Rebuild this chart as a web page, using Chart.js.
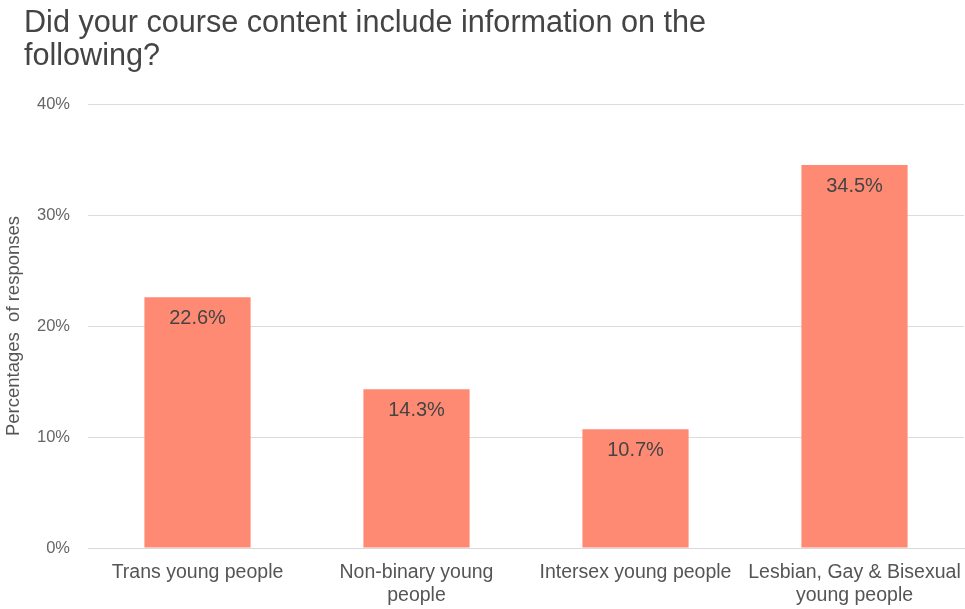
<!DOCTYPE html>
<html lang="en">
<head>
    <meta charset="UTF-8">
    <title>Course content survey</title>
    <script src="https://cdn.jsdelivr.net/npm/chart.js"></script>
    <style>
        html, body { margin: 0; padding: 0; background: #fff; }
        #wrap { width: 965px; height: 609px; }
    </style>
</head>
<body>
    <div id="wrap"><canvas id="surveyChart"></canvas></div>

    <script>
        // survey results (percent of responses)
        const categories = [
            'Trans young people',
            ['Non-binary young', 'people'],
            'Intersex young people',
            ['Lesbian, Gay & Bisexual', 'young people']
        ];
        const responses = [22.6, 14.3, 10.7, 34.5];
        const yTicks = [0, 10, 20, 30, 40];
        const titleLines = ['Did your course content include information on the', 'following?'];

        const FONT = "'Liberation Sans', Arial, sans-serif";

        // heading drawn flush with the left edge, above the plot
        const heading = {
            id: 'heading',
            afterDraw(chart) {
                const c = chart.ctx;
                c.save();
                c.font = '30.6px ' + FONT;
                c.fillStyle = '#444';
                c.textAlign = 'left';
                c.textBaseline = 'alphabetic';
                titleLines.forEach((line, i) => c.fillText(line, 24, 32 + i * 33));
                c.restore();
            }
        };

        // value labels just inside the top of each bar
        const barLabels = {
            id: 'barLabels',
            afterDatasetsDraw(chart) {
                const c = chart.ctx;
                const meta = chart.getDatasetMeta(0);
                c.save();
                c.font = '20px ' + FONT;
                c.fillStyle = '#444';
                c.textAlign = 'center';
                c.textBaseline = 'middle';
                meta.data.forEach((bar, i) => {
                    c.fillText(responses[i].toFixed(1) + '%', bar.x, bar.y + 21);
                });
                c.restore();
            }
        };

        new Chart(document.getElementById('surveyChart'), {
            type: 'bar',
            data: {
                labels: categories,
                datasets: [{
                    data: responses,
                    backgroundColor: '#ff8a73',
                    barPercentage: 0.97,
                    categoryPercentage: 0.5
                }]
            },
            options: {
                responsive: true,
                maintainAspectRatio: false,
                animation: false,
                layout: { padding: { top: 104, left: 3, right: 1, bottom: 0 } },
                plugins: {
                    legend: { display: false },
                    tooltip: { enabled: false },
                    title: { display: false }
                },
                scales: {
                    x: {
                        grid: { display: false, drawTicks: false },
                        border: { color: '#d9d9d9' },
                        ticks: {
                            color: '#555',
                            font: { family: FONT, size: 19.5, lineHeight: 1.2 },
                            padding: 13,
                            maxRotation: 0,
                            autoSkip: false
                        },
                        // wide end labels may overhang the plot edges
                        afterFit(axis) {
                            axis.paddingLeft = 0;
                            axis.paddingRight = 0;
                            axis.height = 61;
                        }
                    },
                    y: {
                        min: 0,
                        max: 40,
                        afterBuildTicks(axis) {
                            axis.ticks = yTicks.map(v => ({ value: v }));
                        },
                        afterFit(axis) {
                            axis.width = 85;
                        },
                        grid: { color: '#dcdcdc', drawTicks: false },
                        border: { display: false },
                        ticks: {
                            color: '#666',
                            font: { family: FONT, size: 16.5 },
                            padding: 18,
                            callback: v => v + '%'
                        },
                        title: {
                            display: true,
                            text: 'Percentages  of responses',
                            color: '#555',
                            font: { family: FONT, size: 18.5, lineHeight: 1.2 },
                            padding: { top: 0, bottom: 12 }
                        }
                    }
                }
            },
            plugins: [barLabels, heading]
        });
    </script>
</body>
</html>
